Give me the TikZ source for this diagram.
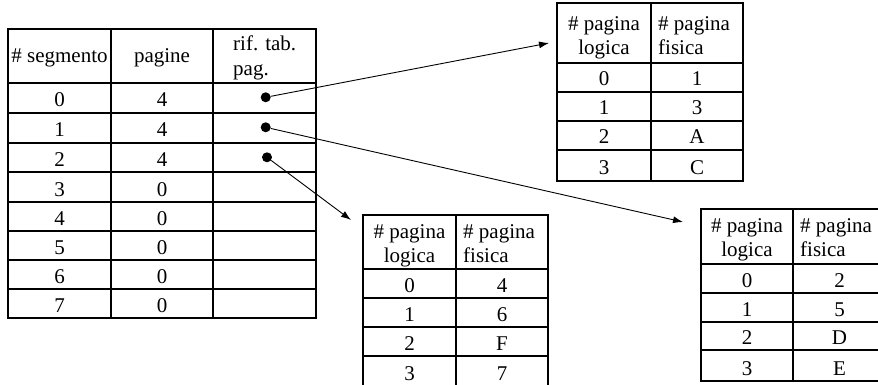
\documentclass[tikz,border=0pt]{standalone}
\usepackage{fontspec}
\setmainfont{Liberation Serif}
\usetikzlibrary{arrows.meta}

\tikzset{
  grid/.style={line width=1.1pt},
  frame/.style={line width=2.4pt},
  txt/.style={font=\fontsize{21}{25}\selectfont, inner sep=0pt, anchor=base},
  txtl/.style={txt, anchor=base west},
  dot/.style={circle, fill=black, inner sep=0pt, minimum size=10pt},
  link/.style={line width=0.9pt, -{Latex[length=10pt,width=7pt]}},
}

% Page table: #1 name, #2 left, #3 middle, #4 right, #5 top, #6 header bottom,
% #7 frame bottom, #8 first header baseline, #9 rows {bottom/logical/physical,...}
\newcommand\pagtable[9]{%
  \foreach \yb/\lg/\fs in {#9} {
    \draw[grid] (#2,\yb) -- (#4,\yb);
    \node[txt] (#1-l\lg) at ({(#2+#3)/2},\yb-6) {\lg};
    \node[txt] (#1-f\lg) at ({(#3+#4)/2},\yb-6) {\fs};
  }
  \draw[grid] (#2,#6) -- (#4,#6);
  \draw[grid] (#3,#5) -- (#3,#7);
  \node[txt] (#1-h1) at ({(#2+#3)/2},#8) {\# pagina};
  \node[txt] (#1-h2) at ({(#2+#3)/2},#8+24) {logica};
  \node[txtl] (#1-h3) at (#3+7,#8) {\# pagina};
  \node[txtl] (#1-h4) at (#3+7,#8+24) {fisica};
  \draw[frame] (#2,#5) rectangle (#4,#7);
}

\begin{document}
\begin{tikzpicture}[x=1pt,y=-1pt]
  \clip (0,0) rectangle (878,385);

  % segment table
  \foreach \y in {83,113,143,172,202,231,260,289}
    \draw[grid] (8,\y) -- (316,\y);
  \draw[grid] (111,29) -- (111,318) (213,29) -- (213,318);
  \draw[frame] (8,29) rectangle (316,318);

  \node[txt] (hseg) at (59.5,63) {\# segmento};
  \node[txt] (hpag) at (162,63) {pagine};
  \node[txtl] (hrif1) at (233,51) {rif. tab.};
  \node[txtl] (hrif2) at (233,76) {pag.};

  \foreach \s/\p/\yb in {0/4/113,1/4/143,2/4/172,3/0/202,4/0/231,5/0/260,6/0/289,7/0/318} {
    \node[txt] (seg\s) at (59.5,\yb-6) {\s};
    \node[txt] (pag\s) at (162,\yb-6) {\p};
  }

  % page-table references
  \node[dot] (ref0) at (265.7,97.3) {};
  \node[dot] (ref1) at (265.7,127.3) {};
  \node[dot] (ref2) at (267,157.3) {};

  % page tables
  \pagtable{ta}{557}{651}{743}{3}{63}{181}{31}{92/0/1,121/1/3,150/2/A,181/3/C}
  \pagtable{tb}{363}{456}{548}{215}{269}{388}{238}{298/0/4,327/1/6,356/2/F,386.5/3/7}
  \pagtable{tc}{701}{793}{886}{209}{264}{381}{232}{293/0/2,322/1/5,350/2/D,381/3/E}

  % pointers
  \coordinate (endA) at (549,43);
  \coordinate (endB) at (683,222);
  \coordinate (endC) at (351,220);
  \draw[link] (ref0) -- (endA);
  \draw[link] (ref1) -- (endB);
  \draw[link] (ref2) -- (endC);
\end{tikzpicture}
\end{document}
